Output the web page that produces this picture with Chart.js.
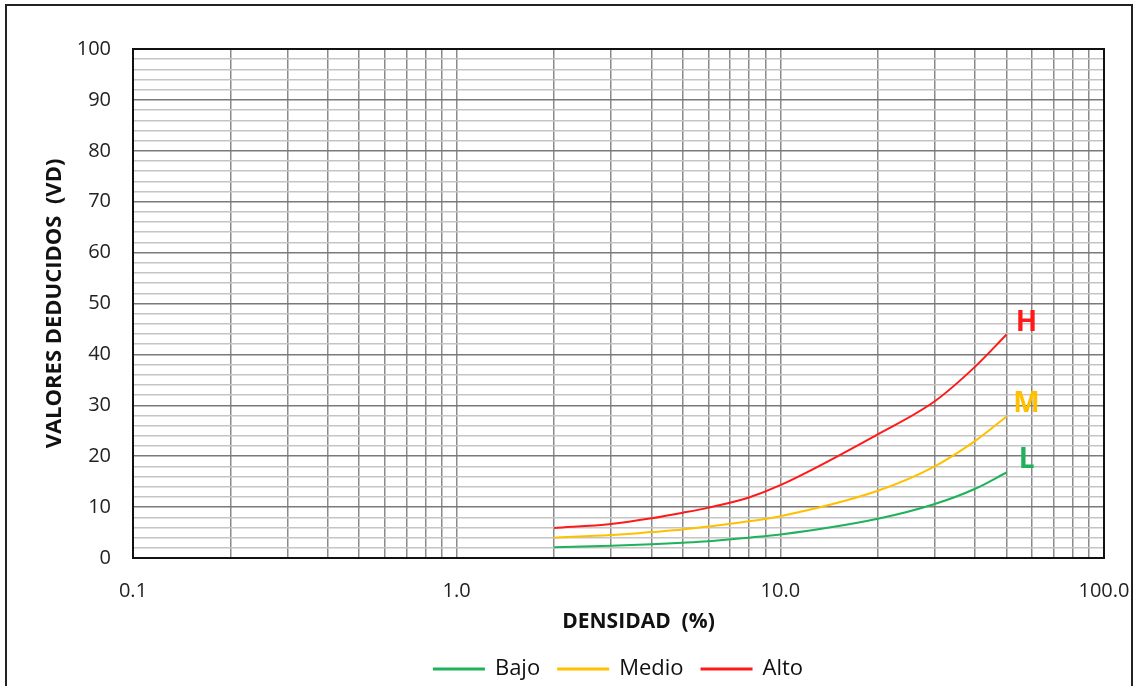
<!DOCTYPE html>
<html>
<head>
<meta charset="utf-8">
<script src="https://cdn.jsdelivr.net/npm/chart.js@4/dist/chart.umd.min.js"></script>
<style>
    html, body { margin: 0; padding: 0; background: #fff; }
    #frame { position: absolute; left: 5px; top: 4px; width: 1124px; height: 700px; border: 2px solid #222; }
    #wrap { position: absolute; left: 0; top: 0; width: 1136px; height: 686px; }
</style>
</head>
<body>
<div id="frame"></div>
<div id="wrap"><canvas id="myChart"></canvas></div>
<script>
// Valores
const densidad = [2, 3, 4, 5, 6, 8, 10, 20, 30, 40, 50];
const bajo  = [2.1, 2.4, 2.7, 3.0, 3.3, 4.0, 4.6, 7.7, 10.6, 13.6, 16.8];
const medio = [4.0, 4.5, 5.1, 5.6, 6.2, 7.2, 8.2, 13.2, 18.0, 23.0, 27.8];
const alto  = [5.9, 6.7, 7.8, 8.9, 9.9, 11.9, 14.3, 24.3, 30.8, 37.6, 43.9];
const series = ['Bajo', 'Medio', 'Alto'];
const tags = ['L', 'M', 'H'];
const colores = ['#1fb25a', '#ffc000', '#ff1a1a'];
const xTickLabels = ['0.1', '1.0', '10.0', '100.0'];
const yTickLabels = ['0', '10', '20', '30', '40', '50', '60', '70', '80', '90', '100'];
const xTitulo = 'DENSIDAD  (%)';

// lineas de la grilla logaritmica: 1..9 por decada
const xGrid = [];
for (let e = -1; e <= 1; e++) {
    for (let m = 1; m <= 9; m++) xGrid.push(parseFloat((m * Math.pow(10, e)).toPrecision(2)));
}
xGrid.push(100);

const FONT = "'Open Sans', sans-serif";

const tagPlugin = {
    id: 'tags',
    afterDatasetsDraw(chart) {
        const ctx = chart.ctx;
        ctx.save();
        ctx.font = 'bold 28px ' + FONT;
        ctx.textAlign = 'center';
        ctx.textBaseline = 'middle';
        chart.data.datasets.forEach((ds, i) => {
            const pts = chart.getDatasetMeta(i).data;
            const last = pts[pts.length - 1];
            ctx.fillStyle = colores[i];
            ctx.fillText(tags[i], last.x + 20, last.y - 12);
        });
        ctx.restore();
    },
    afterDraw(chart) {
        const a = chart.chartArea;
        const ctx = chart.ctx;
        ctx.save();
        ctx.strokeStyle = '#111';
        ctx.lineWidth = 2;
        ctx.strokeRect(a.left, a.top, a.right - a.left, a.bottom - a.top);
        // titulo del eje x, algo corrido a la derecha como en el original
        ctx.fillStyle = '#111';
        ctx.font = 'bold 21px ' + FONT;
        ctx.textAlign = 'center';
        ctx.textBaseline = 'middle';
        ctx.fillText(xTitulo, (a.left + a.right) / 2 + 20, a.bottom + 64);
        ctx.restore();
    }
};

const ctx1 = document.getElementById('myChart').getContext('2d');
new Chart(ctx1, {
    type: 'line',
    data: {
        labels: densidad,
        datasets: [bajo, medio, alto].map((vals, i) => ({
            label: series[i],
            data: densidad.map((d, j) => ({ x: d, y: vals[j] })),
            borderColor: colores[i],
            backgroundColor: colores[i],
            borderWidth: 2,
            pointRadius: 0,
            cubicInterpolationMode: 'monotone',
            fill: false,
        }))
    },
    options: {
        responsive: true,
        maintainAspectRatio: false,
        animation: false,
        layout: { padding: { top: 49, right: 32, left: 34, bottom: -4 } },
        scales: {
            x: {
                type: 'logarithmic',
                min: 0.1,
                max: 100,
                afterBuildTicks: (scale) => {
                    scale.ticks = xGrid.map(v => ({ value: v }));
                },
                afterFit: (scale) => {
                    scale.paddingLeft = 0;
                    scale.paddingRight = 0;
                    scale.height = 82;
                },
                ticks: {
                    autoSkip: false,
                    maxRotation: 0,
                    padding: 21,
                    color: '#222',
                    font: { family: FONT, size: 20 },
                    callback: function(value) {
                        const s = Number(value).toFixed(1);
                        return xTickLabels.includes(s) ? s : '';
                    }
                },
                grid: {
                    drawTicks: false,
                    color: '#8a8a8a',
                    lineWidth: 1.5,
                },
                border: { color: '#111', width: 2 },
                title: { display: false }
            },
            y: {
                min: 0,
                max: 100,
                afterFit: (scale) => { scale.width = 99; },
                ticks: {
                    stepSize: 2,
                    autoSkip: false,
                    padding: 22,
                    color: '#222',
                    font: { family: FONT, size: 20 },
                    callback: function(value) {
                        const s = String(value);
                        return yTickLabels.includes(s) ? s : '';
                    }
                },
                grid: {
                    drawTicks: false,
                    color: (c) => (c.tick && c.tick.value % 10 === 0) ? '#7a7a7a' : '#c4c4c4',
                    lineWidth: 1.5,
                },
                border: { color: '#111', width: 2 },
                title: {
                    display: true,
                    text: 'VALORES DEDUCIDOS  (VD)',
                    color: '#111',
                    font: { family: FONT, size: 22, weight: 'bold' },
                    padding: { top: 8, bottom: 0 }
                }
            }
        },
        plugins: {
            legend: {
                position: 'bottom',
                fullSize: false,
                labels: {
                    boxWidth: 50,
                    boxHeight: 1,
                    color: '#111',
                    padding: 18,
                    font: { family: FONT, size: 22 }
                }
            },
            tooltip: { enabled: false }
        }
    },
    plugins: [tagPlugin]
});
</script>
</body>
</html>
